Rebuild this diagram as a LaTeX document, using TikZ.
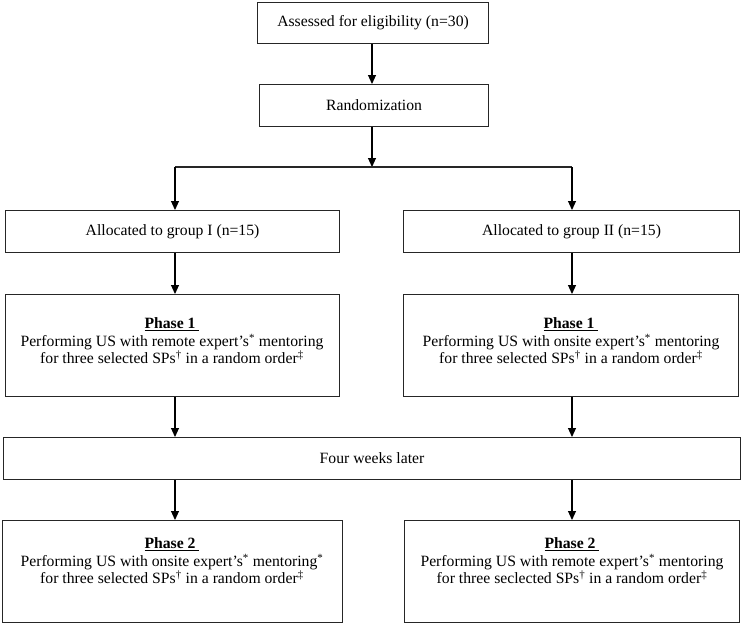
\documentclass[tikz,border=0pt]{standalone}
\usepackage{fontspec}
\setmainfont{Liberation Serif}
\usetikzlibrary{arrows.meta}
\tikzset{
  boxnode/.style={draw=black!85, line width=1.1pt, inner sep=0pt, anchor=north west},
  txt/.style={align=center, font=\fontsize{15.7}{17.5}\selectfont, inner sep=0pt},
  arr/.style={line width=1.1pt, draw=black, -{Triangle[length=9pt,width=8pt]}},
  plain/.style={line width=1.1pt, draw=black!85}
}
\newcommand{\phasehead}[1]{\textbf{\underline{Phase #1\ }}}
\begin{document}
\begin{tikzpicture}[x=1pt,y=-1pt]
\useasboundingbox (0,0) rectangle (742,625);
% boxes
\node[boxnode, minimum width=231pt, minimum height=41pt] (A) at (257,2) {};
\node[txt] (At) at (A.center) {Assessed for eligibility (n=30)};
\node[boxnode, minimum width=229pt, minimum height=42pt] (R) at (259,84) {};
\node[txt] (Rt) at (R.center) {Randomization};
\node[boxnode, minimum width=334pt, minimum height=42pt] (G1) at (5,210) {};
\node[txt] (G1t) at (G1.center) {Allocated to group I (n=15)};
\node[boxnode, minimum width=336pt, minimum height=42pt] (G2) at (403,210) {};
\node[txt] (G2t) at (G2.center) {Allocated to group II (n=15)};
\node[boxnode, minimum width=334pt, minimum height=102pt] (P1L) at (5,294) {};
\node[txt] (P1Lt) at (172,341) {\phasehead{1}\\Performing US with remote expert's\textsuperscript{*} mentoring\\for three selected SPs\textsuperscript{†} in a random order\textsuperscript{‡}};
\node[boxnode, minimum width=335pt, minimum height=102pt] (P1R) at (403,294) {};
\node[txt] (P1Rt) at (571,341) {\phasehead{1}\\Performing US with onsite expert's\textsuperscript{*} mentoring\\for three selected SPs\textsuperscript{†} in a random order\textsuperscript{‡}};
\node[boxnode, minimum width=737pt, minimum height=42pt] (FW) at (3,437) {};
\node[txt] (FWt) at (FW.center) {Four weeks later};
\node[boxnode, minimum width=340pt, minimum height=102pt] (P2L) at (2,520) {};
\node[txt] (P2Lt) at (172,561) {\phasehead{2}\\Performing US with onsite expert's\textsuperscript{*} mentoring\textsuperscript{*}\\for three selected SPs\textsuperscript{†} in a random order\textsuperscript{‡}};
\node[boxnode, minimum width=335pt, minimum height=102pt] (P2R) at (404,520) {};
\node[txt] (P2Rt) at (572,561) {\phasehead{2}\\Performing US with remote expert's\textsuperscript{*} mentoring\\for three seclected SPs\textsuperscript{†} in a random order\textsuperscript{‡}};
% junction
\coordinate (J) at (372,167);
\coordinate (JL) at (175,167);
\coordinate (JR) at (572,167);
% connectors
\draw[arr] (A.south -| J) -- (R.north -| J);
\draw[arr] (R.south -| J) -- (J);
\draw[plain] (JL) -- (JR);
\draw[arr] (JL) -- (JL |- G1.north);
\draw[arr] (JR) -- (JR |- G2.north);
\draw[arr] (JL |- G1.south) -- (JL |- P1L.north);
\draw[arr] (JR |- G2.south) -- (JR |- P1R.north);
\draw[arr] (JL |- P1L.south) -- (JL |- FW.north);
\draw[arr] (JR |- P1R.south) -- (JR |- FW.north);
\draw[arr] (JL |- FW.south) -- (JL |- P2L.north);
\draw[arr] (JR |- FW.south) -- (JR |- P2R.north);
\end{tikzpicture}
\end{document}
